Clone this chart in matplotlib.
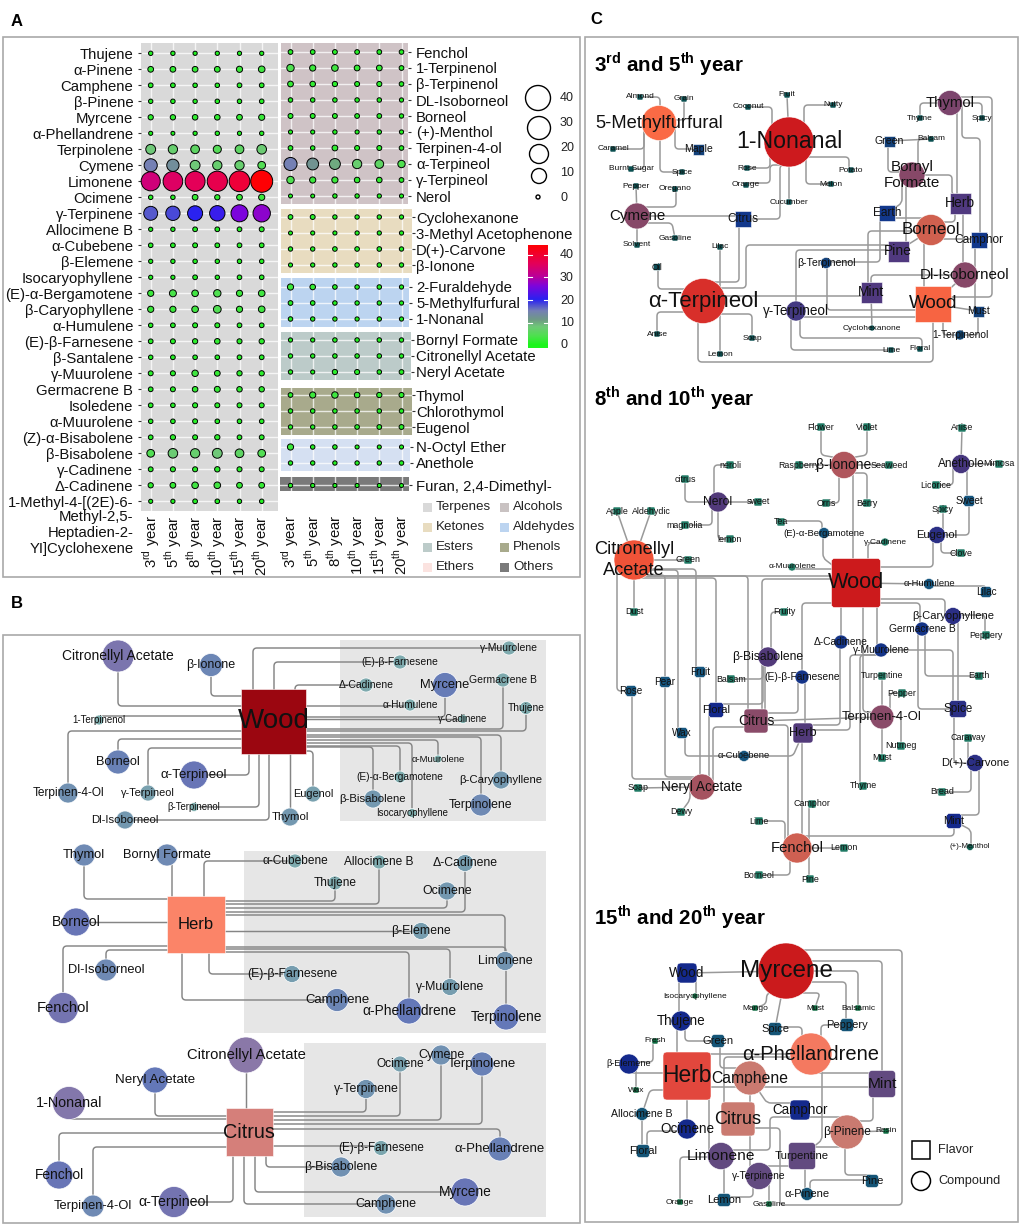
import numpy as np
import matplotlib
matplotlib.use("Agg")
import matplotlib.pyplot as plt
from matplotlib.colors import LinearSegmentedColormap, Normalize
from matplotlib.patches import Rectangle, Circle, FancyBboxPatch, PathPatch
from matplotlib.path import Path

plt.rcParams['font.family'] = ['Liberation Sans', 'DejaVu Sans']
plt.rcParams['mathtext.fontset'] = 'custom'
plt.rcParams['mathtext.rm'] = 'Liberation Sans'
plt.rcParams['mathtext.bf'] = 'Liberation Sans:bold'

W, H = 1021, 1226

# ---------- panel A data ----------
years = ["3$^{\\mathrm{rd}}$ year", "5$^{\\mathrm{th}}$ year", "8$^{\\mathrm{th}}$ year",
         "10$^{\\mathrm{th}}$ year", "15$^{\\mathrm{th}}$ year", "20$^{\\mathrm{th}}$ year"]

terpene_names = ["Thujene", "α-Pinene", "Camphene", "β-Pinene", "Myrcene", "α-Phellandrene", "Terpinolene",
                 "Cymene", "Limonene", "Ocimene", "γ-Terpinene", "Allocimene B", "α-Cubebene", "β-Elemene",
                 "Isocaryophyllene", "(E)-α-Bergamotene", "β-Caryophyllene", "α-Humulene", "(E)-β-Farnesene",
                 "β-Santalene", "γ-Muurolene", "Germacrene B", "Isoledene", "α-Muurolene", "(Z)-α-Bisabolene",
                 "β-Bisabolene", "γ-Cadinene", "Δ-Cadinene", "1-Methyl-4-[(2E)-6-"]
terpene_wrap = ["Methyl-2,5-", "Heptadien-2-", "YI]Cyclohexene"]
terpene_vals = [[.7, .7, .6, .6, .6, .6], [2, 2, 2, 2, 2.5, 3], [1, 1, .8, .8, 1, 1], [.7, .8, .7, .8, .8, .9],
                [1.5, 1.6, 1.8, 1.8, 2, 2.4], [.5, .4, .6, .7, .6, .7], [8, 7, 6, 5, 6, 7.5],
                [15, 13, 8, 7, 7, 4.5], [33, 35, 36, 37, 39, 44], [.8, .8, 2, 1.5, 2, 2.5],
                [17, 18, 20, 21, 26, 27], [.6, .7, 1, 1, 1, 1.2], [.9, 1, 1.1, 1, 1, 1], [.6, .7, .8, .7, .8, .8],
                [.6, .6, 1, .7, .9, .9], [2.5, 3.5, 3, 4, 2.5, 3], [2.5, 2.5, 3, 4.5, 2.5, 3],
                [.8, 1, 1.2, 1.2, 1, 1], [1, 1.2, 1.5, 1.8, 1.3, 1.5], [.8, 1, .9, .9, 1, 1],
                [1.2, 1.3, 2.8, 2, 1.5, 1.5], [1, 1.2, 1.8, 2.2, 1.7, 1.6], [1, .9, 1.3, 1.2, 1.2, 1.2],
                [.8, .9, 1.2, .9, .9, .9], [1, 1.5, 1.2, 1.5, 1, 1.1], [4.5, 7.5, 7, 8, 6, 4.5],
                [1.1, 1.3, 1.3, 1.6, 1.3, 1.2], [1.5, 2, 3, 3, 2, 2], [.5, .6, 1, .9, .7, .8]]

alcohol_names = ["Fenchol", "1-Terpinenol", "β-Terpinenol", "DL-Isoborneol", "Borneol", "(+)-Menthol",
                 "Terpinen-4-ol", "α-Terpineol", "γ-Terpineol", "Nerol"]
alcohol_vals = [[1, 1, 1.1, 1, 1, .9], [4, 2.5, 3, 2, 2, 1], [2, 1.8, 1.5, 1.2, 1.3, .9], [.8, .8, .8, .8, .8, .6],
                [1.2, 1.2, 1.1, 1, 1, .7], [.5, .5, .7, .5, .7, .6], [1, .8, 2, 1.2, 1.2, .9],
                [15, 12, 10, 7, 6, 4], [4, 2.5, 2.5, 1.8, 1.8, 1], [.4, .4, .7, .7, .6, .5]]

ketone_names = ["Cyclohexanone", "3-Methyl Acetophenone", "D(+)-Carvone", "β-Ionone"]
ketone_vals = [[1, 1.2, .7, .7, .7, .6], [.4, .5, .5, .6, .6, .6], [.7, .7, .9, .9, .9, .7], [.5, .6, .7, .8, .8, .7]]

aldehyde_names = ["2-Furaldehyde", "5-Methylfurfural", "1-Nonanal"]
aldehyde_vals = [[2.5, 1.8, .9, .8, .8, .6], [1, .9, .8, .7, .7, .6], [.8, .7, .7, .6, .7, .6]]

ester_names = ["Bornyl Formate", "Citronellyl Acetate", "Neryl Acetate"]
ester_vals = [[.6, .6, .8, .8, .8, .7], [.7, .7, .8, .8, .8, .7], [.7, .5, 1.5, 1.3, .8, 1]]

phenol_names = ["Thymol", "Chlorothymol", "Eugenol"]
phenol_vals = [[1, 2.5, 2.8, 1.8, 1.5, 1.3], [.8, .8, .8, .8, .8, .8], [.7, .7, .8, .9, 1, 1.1]]

ether_names = ["N-Octyl Ether", "Anethole"]
ether_vals = [[2.5, .8, .8, .5, .5, .5], [.7, .7, .7, .7, .7, .8]]

other_names = ["Furan, 2,4-Dimethyl-"]
other_vals = [[.7, .6, .5, .5, .5, .4]]

class_names = ["Terpenes", "Alcohols", "Ketones", "Aldehydes", "Esters", "Phenols", "Ethers", "Others"]
class_cols = ["#d9d9d9", "#c9c2c2", "#e8dcc0", "#bcd4f0", "#bccbc9", "#a8aa8c", "#fbe3e0", "#7a7a7a"]

size_levels = [40, 30, 20, 10, 0]
color_levels = [40, 30, 20, 10, 0]

value_cmap = LinearSegmentedColormap.from_list("conc", [
    (0, "#1bf51b"), (4 / 44.4, "#4fe050"), (8 / 44.4, "#6fc878"), (11 / 44.4, "#6f9a85"), (15 / 44.4, "#7580b4"),
    (20 / 44.4, "#2a22f0"), (26 / 44.4, "#7d05dc"), (30 / 44.4, "#b8009c"), (36 / 44.4, "#e40058"), (1, "#ff0000")])
value_norm = Normalize(0, 44.4)

# ---------- panel B layout: name -> (x, y, diameter), then route to the hub ----------
b_wood = {"Citronellyl Acetate": (118, 656, 32), "β-Ionone": (211, 665, 23), "Δ-Cadinene": (366, 685, 14),
          "(E)-β-Farnesene": (400, 662, 14), "γ-Muurolene": (509, 648, 14), "Myrcene": (445, 685, 25),
          "Germacrene B": (503, 680, 14), "α-Humulene": (410, 705, 12), "γ-Cadinene": (463, 719, 9),
          "Thujene": (526, 708, 13), "1-Terpinenol": (99, 720, 10), "Borneol": (118, 762, 24),
          "Terpinen-4-Ol": (68, 793, 20), "γ-Terpineol": (148, 793, 16), "α-Terpineol": (194, 775, 28),
          "β-Terpinenol": (194, 807, 9), "Dl-Isoborneol": (125, 820, 18), "Thymol": (290, 817, 18),
          "Eugenol": (313, 794, 16), "β-Bisabolene": (373, 799, 18), "(E)-α-Bergamotene": (400, 777, 12),
          "Isocaryophyllene": (412, 813, 9), "α-Muurolene": (438, 759, 8), "β-Caryophyllene": (501, 780, 18),
          "Terpinolene": (481, 805, 22)}
b_wood_routes = {"Citronellyl Acetate": ('y', 706), "β-Ionone": ('y', 696), "γ-Muurolene": ('x', 253),
                 "(E)-β-Farnesene": ('x', 274), "Δ-Cadinene": ('x', 295), "α-Humulene": ('y', 706),
                 "Myrcene": ('y', 717), "γ-Cadinene": ('y', 719), "Germacrene B": ('y', 729), "Thujene": ('y', 731),
                 "1-Terpinenol": ('y', 716), "Terpinen-4-Ol": ('y', 731), "Borneol": ('y', 739),
                 "γ-Terpineol": ('y', 748), "α-Terpineol": ('x', 249), "β-Terpinenol": ('x', 259),
                 "Dl-Isoborneol": ('x', 269), "Thymol": ('x', 290), "Eugenol": ('y', 751), "Terpinolene": ('y', 737),
                 "β-Caryophyllene": ('y', 735), "β-Bisabolene": ('y', 747), "(E)-α-Bergamotene": ('y', 746),
                 "Isocaryophyllene": ('y', 743), "α-Muurolene": ('y', 740)}

b_herb = {"Thymol": (84, 855, 22), "Bornyl Formate": (167, 855, 22), "α-Cubebene": (295, 861, 14),
          "Allocimene B": (379, 862, 14), "Thujene": (335, 883, 14), "Δ-Cadinene": (465, 863, 17),
          "Ocimene": (447, 891, 18), "Borneol": (76, 922, 28), "β-Elemene": (421, 931, 17),
          "Limonene": (505, 961, 19), "Dl-Isoborneol": (106, 970, 22), "Fenchol": (63, 1008, 31),
          "(E)-β-Farnesene": (292, 974, 17), "γ-Muurolene": (450, 987, 17), "Camphene": (337, 1000, 23),
          "α-Phellandrene": (409, 1011, 26), "Terpinolene": (506, 1017, 26)}
b_herb_routes = {"Thymol": ('y', 899), "Bornyl Formate": ('x', 172), "α-Cubebene": ('x', 204),
                 "Allocimene B": ('y', 904), "Thujene": ('y', 901), "Ocimene": ('y', 908), "Δ-Cadinene": ('y', 912),
                 "Limonene": ('y', 915), "β-Elemene": ('y', 931), "Borneol": ('y', 922), "Dl-Isoborneol": ('y', 950),
                 "Fenchol": ('y', 946), "(E)-β-Farnesene": ('x', 209), "Camphene": ('x', 182),
                 "α-Phellandrene": ('y', 952), "γ-Muurolene": ('y', 949), "Terpinolene": ('y', 947)}

b_citrus = {"Citronellyl Acetate": (246, 1055, 36), "Neryl Acetate": (155, 1080, 26), "1-Nonanal": (69, 1103, 33),
            "γ-Terpinene": (366, 1089, 19), "Ocimene": (400, 1064, 16), "Cymene": (441, 1055, 20),
            "Terpinolene": (482, 1064, 24), "α-Phellandrene": (500, 1149, 24), "(E)-β-Farnesene": (381, 1148, 15),
            "β-Bisabolene": (341, 1167, 20), "Myrcene": (465, 1192, 28), "Camphene": (386, 1204, 20),
            "Fenchol": (59, 1175, 28), "Terpinen-4-Ol": (93, 1206, 22), "α-Terpineol": (174, 1202, 31)}
b_citrus_routes = {"Citronellyl Acetate": ('x', 246), "Neryl Acetate": ('y', 1116), "1-Nonanal": ('y', 1119),
                   "γ-Terpinene": ('y', 1112), "Ocimene": ('y', 1116), "Cymene": ('y', 1120), "Terpinolene": ('y', 1124),
                   "α-Phellandrene": ('y', 1129), "(E)-β-Farnesene": ('y', 1146), "β-Bisabolene": ('x', 266),
                   "Myrcene": ('x', 255), "Camphene": ('x', 244), "α-Terpineol": ('x', 233), "Fenchol": ('y', 1133),
                   "Terpinen-4-Ol": ('y', 1147)}

# ---------- panel C layout ----------
c1_squares = {"Almond": (640, 97, 6), "Grain": (684, 99, 6), "Maple": (698, 149, 11), "Caramel": (613, 149, 6),
              "Burnt Sugar": (631, 169, 6), "Spice": (682, 172, 6), "Pepper": (636, 186, 6), "Oregano": (675, 189, 6),
              "Solvent": (637, 245, 6), "Gasoline": (675, 238, 6), "Citrus": (743, 219, 16), "Fruit": (787, 95, 6),
              "Coconut": (748, 107, 6), "Nutty": (833, 105, 6), "Rose": (747, 168, 6), "Orange": (746, 185, 6),
              "Melon": (831, 184, 6), "Potato": (851, 170, 6), "Cucumber": (789, 202, 6), "Green": (889, 141, 11),
              "Balsam": (931, 139, 6), "Thyme": (920, 118, 6), "Spicy": (982, 118, 6), "Herb": (960, 203, 21),
              "Earth": (887, 213, 16), "Camphor": (979, 240, 16), "Pine": (898, 251, 21), "Lilac": (720, 247, 6),
              "Oil": (657, 267, 7), "Mint": (871, 292, 21), "Wood": (933, 304, 36), "Must": (978, 311, 11),
              "Anise": (657, 334, 6), "Soap": (752, 338, 6), "Lemon": (720, 354, 6), "Lime": (891, 350, 6),
              "Floral": (920, 349, 6)}
c1_circles = {"5-Methylfurfural": (659, 123, 35), "Cymene": (637, 216, 26), "1-Nonanal": (789, 142, 50),
              "Thymol": (950, 103, 25), "Bornyl Formate": (912, 175, 26), "Borneol": (931, 230, 31),
              "β-Terpinenol": (826, 263, 11), "Dl-Isoborneol": (965, 275, 26), "α-Terpineol": (703, 301, 45),
              "γ-Terpineol": (796, 311, 20), "1-Terpinenol": (960, 335, 10), "Cyclohexanone": (872, 328, 6)}
c1_edges = [("5-Methylfurfural", "Almond", (660, 97)), ("5-Methylfurfural", "Grain", (684, 120)),
            ("5-Methylfurfural", "Maple", (675, 123), (675, 149)), ("5-Methylfurfural", "Caramel", (644, 123), (644, 149)),
            ("5-Methylfurfural", "Burnt Sugar", (644, 123), (644, 169)), ("5-Methylfurfural", "Spice", (660, 172)),
            ("Cymene", "Pepper"), ("Cymene", "Oregano", (637, 207), (676, 207)), ("Cymene", "Gasoline", (637, 223), (672, 223)),
            ("Cymene", "Solvent"), ("Cymene", "Citrus", (743, 216)),
            ("Citrus", "1-Nonanal", (780, 219), (780, 165)), ("Citrus", "α-Terpineol", (739, 219), (739, 282), (703, 282)),
            ("α-Terpineol", "Pine", (746, 288), (746, 245)), ("α-Terpineol", "Mint", (703, 296), (871, 296)),
            ("α-Terpineol", "Wood", (698, 362), (933, 362)), ("α-Terpineol", "Lilac", (720, 301)),
            ("α-Terpineol", "Lemon", (720, 301)), ("α-Terpineol", "Oil", (703, 289), (658, 289)),
            ("α-Terpineol", "Anise", (703, 312), (657, 312)), ("α-Terpineol", "Soap", (703, 314), (752, 314)),
            ("1-Nonanal", "Fruit"), ("1-Nonanal", "Coconut", (772, 107)), ("1-Nonanal", "Nutty", (804, 105)),
            ("1-Nonanal", "Rose", (770, 168)), ("1-Nonanal", "Orange", (770, 165), (770, 183)),
            ("1-Nonanal", "Melon", (806, 142), (806, 184)), ("1-Nonanal", "Potato", (789, 157), (849, 157)),
            ("1-Nonanal", "Cucumber"), ("Green", "Balsam"), ("Green", "Bornyl Formate", (888, 172)),
            ("Balsam", "Bornyl Formate", (918, 139), (918, 170)), ("Thymol", "Thyme", (920, 103)), ("Thymol", "Spicy", (982, 103)),
            ("Thymol", "Herb", (957, 103), (957, 203)), ("Thymol", "Camphor", (962, 103), (962, 138), (980, 138), (980, 240)),
            ("Thymol", "Wood", (992, 97), (992, 297)), ("Bornyl Formate", "Herb", (952, 175), (952, 195)),
            ("Bornyl Formate", "Earth", (902, 203)), ("Bornyl Formate", "Pine", (906, 175), (906, 251)),
            ("Earth", "Borneol", (887, 218), (931, 218)), ("Earth", "β-Terpinenol", (880, 213), (880, 262)),
            ("Borneol", "Herb", (955, 222)), ("Borneol", "Camphor", (931, 239), (979, 239)),
            ("Borneol", "Mint", (868, 231), (868, 292)), ("Borneol", "Pine"), ("Borneol", "Wood", (924, 230), (924, 304)),
            ("Pine", "γ-Terpineol", (796, 250)), ("β-Terpinenol", "Wood", (827, 310)),
            ("Mint", "Dl-Isoborneol", (871, 275)), ("Mint", "Cyclohexanone"), ("Dl-Isoborneol", "Wood"),
            ("Dl-Isoborneol", "Must", (975, 275), (975, 311)), ("Camphor", "Dl-Isoborneol", (975, 240), (975, 275)),
            ("Herb", "Dl-Isoborneol", (963, 203), (963, 275)), ("Wood", "γ-Terpineol", (933, 317), (796, 317)),
            ("γ-Terpineol", "Floral", (800, 338), (922, 338)), ("γ-Terpineol", "Lime", (791, 311), (791, 350)),
            ("Wood", "1-Terpinenol", (943, 335)), ("Must", "1-Terpinenol", (978, 335)), ("Wood", "Must")]

c2_squares = {"Apple": (617, 511, 8), "Aldehydic": (651, 511, 8), "Green": (688, 560, 8), "Dust": (634, 612, 8),
              "citrus": (685, 479, 8), "neroli": (730, 465, 8), "sweet": (758, 502, 8), "magnolia": (685, 525, 8),
              "lemon": (730, 539, 8), "Flower": (821, 427, 8), "Violet": (867, 427, 8), "Raspberry": (799, 465, 8),
              "Seaweed": (889, 465, 8), "Orris": (826, 503, 8), "Berry": (867, 503, 8), "Anise": (962, 428, 8),
              "Mimosa": (999, 464, 8), "Licorice": (936, 485, 8), "Sweet": (969, 501, 11), "Spicy": (943, 509, 8),
              "Clove": (961, 553, 8), "Tea": (781, 522, 8), "Wood": (856, 583, 49), "Lilac": (986, 592, 11),
              "Peppery": (986, 635, 8), "Fruity": (784, 612, 8), "Balsam": (731, 679, 8), "Earth": (979, 676, 8),
              "Turpentine": (882, 676, 8), "Pepper": (902, 693, 8), "Fruit": (700, 672, 11), "Pear": (665, 682, 11),
              "Rose": (631, 691, 11), "Floral": (716, 710, 15), "Citrus": (756, 721, 24), "Herb": (803, 733, 20),
              "Spice": (958, 709, 17), "Wax": (682, 733, 11), "Nutmeg": (901, 746, 8), "Must": (882, 758, 8),
              "Caraway": (968, 738, 8), "Thyme": (863, 786, 8), "Soap": (638, 788, 8), "Dewy": (681, 812, 8),
              "Bread": (942, 792, 8), "Camphor": (812, 804, 8), "Mint": (954, 821, 15), "Lime": (759, 821, 8),
              "Lemon": (844, 848, 8), "Borneol": (759, 875, 8), "Pine": (810, 879, 8)}
c2_circles = {"Citronellyl Acetate": (634, 560, 40), "Nerol": (718, 502, 20), "β-Ionone": (844, 465, 27),
              "Anethole": (961, 464, 19), "Eugenol": (937, 535, 17), "(E)-α-Bergamotene": (824, 533, 11),
              "γ-Cadinene": (885, 542, 8), "α-Muurolene": (792, 567, 8), "α-Humulene": (929, 584, 11),
              "β-Caryophyllene": (953, 616, 17), "Germacrene B": (922, 629, 14), "Δ-Cadinene": (841, 642, 14),
              "γ-Muurolene": (881, 650, 14), "β-Bisabolene": (768, 657, 20), "(E)-β-Farnesene": (802, 677, 14),
              "Terpinen-4-Ol": (882, 717, 24), "α-Cubebene": (744, 756, 11), "D(+)-Carvone": (975, 763, 17),
              "Neryl Acetate": (702, 787, 26), "(+)-Menthol": (970, 847, 7), "Fenchol": (797, 848, 30)}
c2_edges = [("Citronellyl Acetate", "Apple"), ("Citronellyl Acetate", "Aldehydic"), ("Citronellyl Acetate", "Green"),
            ("Citronellyl Acetate", "Dust"), ("Citronellyl Acetate", "Rose", (617, 570), (617, 691)),
            ("Citronellyl Acetate", "Pear", (665, 575), (665, 682)), ("Citronellyl Acetate", "Wax", (678, 570), (678, 733)),
            ("Citronellyl Acetate", "Fruit", (696, 569), (696, 672)), ("Citronellyl Acetate", "Floral", (716, 578)),
            ("Citronellyl Acetate", "Citrus", (748, 576), (748, 721)), ("Citronellyl Acetate", "Wood", (634, 576), (856, 576)),
            ("Wood", "Citrus", (762, 579)), ("Fruity", "β-Bisabolene", (771, 612)), ("Wood", "(E)-β-Farnesene", (802, 603)),
            ("Wood", "Δ-Cadinene", (841, 583)), ("Wood", "Terpinen-4-Ol", (863, 583), (863, 712)), ("Wood", "γ-Muurolene", (877, 583), (877, 650)),
            ("Wood", "Eugenol", (933, 567)), ("Wood", "α-Humulene"), ("α-Humulene", "Lilac", (986, 586)), ("Wood", "β-Caryophyllene", (945, 599)),
            ("Wood", "Germacrene B", (920, 603)), ("Wood", "β-Ionone", (853, 583), (853, 465)), ("Wood", "(E)-α-Bergamotene", (823, 558)),
            ("Wood", "γ-Cadinene", (868, 543)), ("α-Muurolene", "Wood", (840, 569)), ("Tea", "(E)-α-Bergamotene", (822, 521)),
            ("β-Ionone", "Flower", (838, 458), (821, 455)), ("β-Ionone", "Violet", (850, 458), (867, 455)), ("β-Ionone", "Raspberry"),
            ("β-Ionone", "Seaweed"), ("β-Ionone", "Orris", (839, 465), (839, 503)), ("β-Ionone", "Berry", (850, 473), (867, 473)),
            ("Nerol", "citrus", (685, 502)), ("Nerol", "neroli", (714, 465)), ("Nerol", "sweet"), ("Nerol", "magnolia", (712, 525)),
            ("Nerol", "lemon", (718, 539)), ("Anethole", "Anise"), ("Anethole", "Mimosa"), ("Anethole", "Licorice", (953, 485)),
            ("Anethole", "Sweet", (967, 464), (967, 501)), ("Sweet", "Eugenol", (969, 535)), ("Eugenol", "Spicy", (943, 535)),
            ("Eugenol", "Clove", (941, 553)), ("γ-Muurolene", "Herb", (850, 655), (850, 730)), ("γ-Muurolene", "Spice", (953, 650)),
            ("Germacrene B", "Earth", (925, 676)), ("Germacrene B", "Spice", (918, 629), (918, 709)), ("β-Caryophyllene", "Spice", (958, 616)),
            ("β-Caryophyllene", "Peppery", (985, 615)), ("Spice", "D(+)-Carvone", (954, 709), (954, 763)), ("Terpinen-4-Ol", "Turpentine"),
            ("Terpinen-4-Ol", "Pepper", (890, 693)), ("Terpinen-4-Ol", "Nutmeg", (901, 717)), ("Terpinen-4-Ol", "Must"),
            ("Thyme", "γ-Muurolene", (860, 655)), ("Terpinen-4-Ol", "Citrus"), ("β-Bisabolene", "Balsam", (763, 679)),
            ("β-Bisabolene", "Floral", (763, 704)), ("β-Bisabolene", "Citrus", (765, 657), (765, 721)), ("(E)-β-Farnesene", "Citrus", (798, 713)),
            ("(E)-β-Farnesene", "Herb", (805, 677), (805, 733)), ("Δ-Cadinene", "Herb", (840, 725)), ("Citrus", "Fenchol", (788, 725), (788, 840)),
            ("Citrus", "Neryl Acetate", (713, 727)), ("Herb", "Fenchol", (802, 733), (802, 848)), ("Herb", "α-Cubebene", (793, 756)),
            ("α-Cubebene", "Wax", (685, 756)), ("Neryl Acetate", "Rose", (632, 779)), ("Neryl Acetate", "Pear", (665, 777)),
            ("Neryl Acetate", "Fruit", (700, 787)), ("Neryl Acetate", "Floral", (709, 787), (709, 710)), ("Neryl Acetate", "Soap"),
            ("Neryl Acetate", "Dewy", (690, 800)), ("Fenchol", "Lime", (785, 821)), ("Fenchol", "Camphor", (809, 848), (809, 804)),
            ("Fenchol", "Lemon"), ("Fenchol", "Borneol", (790, 875)), ("Fenchol", "Pine", (809, 848), (809, 879)), ("Fenchol", "Mint", (797, 836), (954, 836)),
            ("Mint", "D(+)-Carvone", (979, 815), (979, 763)), ("Mint", "(+)-Menthol", (971, 830)), ("D(+)-Carvone", "Caraway", (968, 763)),
            ("D(+)-Carvone", "Bread", (971, 792))]

c3_squares = {"Wood": (687, 973, 20), "Mango": (755, 1008, 6), "Must": (815, 1008, 6), "Balsamic": (858, 1008, 6),
              "Peppery": (847, 1025, 13), "Spice": (775, 1029, 13), "Fresh": (655, 1041, 6), "Green": (718, 1041, 13),
              "Herb": (687, 1076, 48), "Mint": (882, 1084, 27), "Wax": (636, 1090, 6), "Camphor": (800, 1110, 20),
              "Citrus": (738, 1119, 34), "Resin": (886, 1131, 6), "Floral": (643, 1151, 13), "Turpentine": (802, 1156, 27),
              "Pine": (872, 1181, 13), "Orange": (680, 1202, 6), "Lemon": (724, 1200, 13), "Gasoline": (769, 1204, 6)}
c3_circles = {"Myrcene": (786, 971, 56), "Isocaryophyllene": (695, 996, 6), "Thujene": (681, 1021, 20),
              "β-Elemene": (629, 1064, 20), "α-Phellandrene": (811, 1054, 42), "Camphene": (750, 1078, 34),
              "Allocimene B": (642, 1114, 13), "β-Pinene": (847, 1132, 34), "Ocimene": (687, 1129, 20),
              "Limonene": (721, 1156, 27), "γ-Terpinene": (759, 1176, 27), "α-Pinene": (807, 1194, 13)}
c3_edges = [("Myrcene", "Wood"), ("Citrus", "Myrcene", (780, 1128), (780, 1205), (902, 1205), (902, 950), (800, 950)),
            ("Myrcene", "Mint", (882, 961)), ("Myrcene", "Balsamic", (858, 971)), ("Myrcene", "Peppery", (846, 982)),
            ("Myrcene", "Must", (820, 993)), ("Myrcene", "Mango", (767, 993), (766, 1004)), ("Myrcene", "Spice"),
            ("Wood", "Thujene", (679, 973)), ("Wood", "Isocaryophyllene", (696, 973)), ("Thujene", "Herb", (677, 1021)),
            ("Thujene", "Green", (685, 1041)), ("Green", "Camphene", (720, 1068)), ("Fresh", "β-Elemene", (653, 1062)),
            ("β-Elemene", "Herb", (629, 1073), (687, 1073)), ("β-Elemene", "Wax", (636, 1064)), ("Herb", "Allocimene B", (650, 1090)),
            ("Herb", "Ocimene"), ("Herb", "Limonene", (709, 1076), (709, 1156)), ("Herb", "Mint", (687, 1087), (882, 1087)),
            ("Herb", "α-Phellandrene", (687, 1054)), ("Citrus", "α-Phellandrene", (724, 1119), (724, 1057)), ("Allocimene B", "Floral", (642, 1151)),
            ("Floral", "Ocimene", (647, 1131)), ("Camphene", "Citrus", (750, 1078), (750, 1119)), ("Camphene", "Camphor", (767, 1103)),
            ("Spice", "α-Phellandrene", (802, 1027)), ("Peppery", "α-Phellandrene", (821, 1025)), ("α-Phellandrene", "Mint", (811, 1073), (882, 1073)),
            ("α-Phellandrene", "Turpentine", (822, 1054), (822, 1140)), ("β-Pinene", "Limonene", (770, 1117), (770, 1150)),
            ("Mint", "β-Pinene", (873, 1121)), ("β-Pinene", "Resin"), ("β-Pinene", "Turpentine", (847, 1147), (802, 1147)), ("β-Pinene", "Pine", (845, 1175)),
            ("Turpentine", "γ-Terpinene", (802, 1166), (759, 1166)), ("Turpentine", "α-Pinene", (805, 1156)), ("Pine", "α-Pinene", (810, 1180)),
            ("Citrus", "γ-Terpinene", (750, 1119), (750, 1170)), ("Limonene", "Orange", (680, 1157)), ("Limonene", "Lemon", (724, 1156)),
            ("γ-Terpinene", "Lemon", (753, 1197)), ("γ-Terpinene", "Gasoline", (769, 1176))]

wrapped = {"Bornyl Formate": "Bornyl\nFormate", "Citronellyl Acetate": "Citronellyl\nAcetate"}
c3_fonts = {"β-Pinene": 8.6, "Turpentine": 8.2, "γ-Terpinene": 7.4, "β-Elemene": 6.6, "α-Phellandrene": 14.5,
            "Camphene": 11.3, "Allocimene B": 7.6}

c1_stops = [(6, "#0a4f50"), (11, "#13417a"), (16, "#12388c"), (21, "#50397f"), (26, "#874868"), (31, "#d0604f"),
            (35, "#fa6a45"), (45, "#d82f2a"), (50, "#cd1a1e")]
c2_stops = [(7, "#0f6050"), (8, "#1f7a64"), (11, "#15547e"), (15, "#14288c"), (20, "#523a7a"), (26, "#a65360"),
            (30, "#cf6052"), (40, "#f05438"), (49, "#cc1a1c")]
c3_stops = [(6, "#0d6a40"), (13, "#155578"), (20, "#14288c"), (27, "#624a80"), (34, "#ca7a70"), (42, "#f47a60"),
            (48, "#e2483e"), (56, "#cb1a1c")]
b_stops = [(8, "#7fb0ae"), (14, "#7eaaae"), (18, "#7398b0"), (22, "#6f8ab4"), (26, "#6478b8"), (30, "#6c72b4"),
           (34, "#8a78a8")]


def stops_cmap(stops):
    lo, hi = stops[0][0], stops[-1][0]
    cm = LinearSegmentedColormap.from_list("s", [((d - lo) / (hi - lo), c) for d, c in stops])
    return lambda d: cm((d - lo) / (hi - lo))


fig = plt.figure(figsize=(W / 100, H / 100), dpi=100)
ov = fig.add_axes([0, 0, 1, 1])
ov.set_xlim(0, W)
ov.set_ylim(H, 0)
ov.axis('off')


def px_axes(x0, y0, x1, y1):
    return fig.add_axes([x0 / W, 1 - y1 / H, (x1 - x0) / W, (y1 - y0) / H])


PANEL_X = {'left': 150.7, 'right': 290.5}
LABEL_FS = 10.7


def bubble_panel(box, first_row, names, vals, color, side='right', show_years=False, year_pad=3):
    x0, y0, x1, y1 = box
    ax = px_axes(x0, y0, x1, y1)
    ax.set_facecolor(color)
    # data x is the column index, data y the row index
    ax.set_xlim((x0 - PANEL_X[side]) / 22.2, (x1 - PANEL_X[side]) / 22.2)
    ax.set_ylim((y1 - first_row) / 16.0, (y0 - first_row) / 16.0)
    v = np.array(vals)
    xx, yy = np.meshgrid(np.arange(v.shape[1]), np.arange(v.shape[0]))
    r2 = 2.9 + 2.68 * v
    ax.set_axisbelow(True)
    ax.grid(color='white', lw=1.0, alpha=0.75)
    ax.scatter(xx.ravel(), yy.ravel(), s=(r2.ravel() * 4) * 0.72 ** 2, c=v.ravel(), cmap=value_cmap, norm=value_norm,
               edgecolors='black', linewidths=0.7, zorder=3, clip_on=False)
    for s in ax.spines.values():
        s.set_visible(False)
    ax.set_yticks(np.arange(len(names)))
    ax.set_yticklabels(names, fontsize=LABEL_FS, color='#111111')
    ax.set_xticks(np.arange(6))
    if side == 'right':
        ax.yaxis.tick_right()
        pad = max(0.5, (416 - x1) * 0.72 - 2)
    else:
        pad = 3.5
    ax.tick_params(axis='y', length=2, width=0.8, pad=pad, color='#333333')
    if show_years:
        ax.set_xticklabels(years, rotation=90, fontsize=LABEL_FS, color='#111111')
        ax.tick_params(axis='x', length=0, pad=year_pad)
    else:
        ax.tick_params(axis='x', length=0, labelbottom=False)
    return ax


term = bubble_panel((141, 43, 278, 511), 53.3, terpene_names, terpene_vals, class_cols[0], 'left', True, 3)
for i, line in enumerate(terpene_wrap):
    term.text(-0.78, 29 + i, line, ha='right', va='center', fontsize=LABEL_FS, color='#111111', clip_on=False)
bubble_panel((281, 43, 408, 204), 52, alcohol_names, alcohol_vals, "#cfc3c6")
bubble_panel((281, 209, 412, 273), 217, ketone_names, ketone_vals, class_cols[2])
bubble_panel((281, 278, 409, 327), 287, aldehyde_names, aldehyde_vals, class_cols[3])
bubble_panel((281, 332, 411, 380), 340, ester_names, ester_vals, class_cols[4])
bubble_panel((281, 388, 412, 435), 395, phenol_names, phenol_vals, class_cols[5])
bubble_panel((281, 439, 410, 471), 447, ether_names, ether_vals, "#d5e0f2")
bubble_panel((280, 477, 409, 491), 485.5, other_names, other_vals, class_cols[7], 'right', True, 17)

# size legend
size_pos = [(538, 98, 25), (539, 128, 23), (539, 154, 19), (539, 176, 15), (538, 197, 4)]
label_y = [98, 123, 148, 173, 198]
for (x, y, d), ly, lv in zip(size_pos, label_y, size_levels):
    ov.add_patch(Circle((x, y), d / 2, fc='white', ec='black', lw=1.0))
    ov.text(560, ly, str(lv), fontsize=9, va='center', color='#222222')

# colour bar
cb = px_axes(528, 245, 548, 348)
grad = np.linspace(44.4, -1.3, 200).reshape(-1, 1)
cb.imshow(grad, aspect='auto', cmap=value_cmap, norm=value_norm, extent=[0, 1, -1.3, 44.4])
cb.axis('off')
for lv, ly in zip(color_levels, [255, 278, 301, 323, 345]):
    ov.text(560, ly, str(lv), fontsize=9, va='center', color='#222222')
    if lv > 0:
        cb.plot([0, .22], [lv, lv], color='white', lw=0.8)
        cb.plot([.78, 1], [lv, lv], color='white', lw=0.8)

# class legend
sw_x = [427, 504]
sw_y = [507, 527, 547, 567]
for i, (nm, col) in enumerate(zip(class_names, class_cols)):
    x, y = sw_x[i % 2], sw_y[i // 2]
    ov.add_patch(Rectangle((x - 4.5, y - 4.5), 9, 9, fc=col, ec='none'))
    ov.text(x + 9, y, nm, fontsize=9.6, va='center', color='#222222')

# panel frames and letters
for (x0, y0, x1, y1) in [(3, 37, 580, 577), (3, 635, 580, 1223), (585, 37, 1018, 1222)]:
    ov.add_patch(Rectangle((x0, y0), x1 - x0, y1 - y0, fc='white', ec='#a9a9a9', lw=1.2, zorder=0))
for t, x, y in [("A", 11, 22), ("B", 11, 603), ("C", 590, 20)]:
    ov.text(x, y, t, fontsize=12, fontweight='bold', ha='left', va='center')


def draw_edge(pts, color='#8f8f8f', lw=1.05, z=1, r=4.0):
    pts = [np.array(p, float) for p in pts]
    clean = [pts[0]]
    for p in pts[1:]:
        if np.hypot(*(p - clean[-1])) > 0.5:
            clean.append(p)
    if len(clean) < 2:
        return
    verts, codes = [clean[0]], [Path.MOVETO]
    for i in range(1, len(clean) - 1):
        a, p, b = clean[i - 1], clean[i], clean[i + 1]
        la, lb = np.hypot(*(p - a)), np.hypot(*(b - p))
        rr = min(r, la / 2, lb / 2)
        verts += [p - (p - a) / la * rr, p, p + (b - p) / lb * rr]
        codes += [Path.LINETO, Path.CURVE3, Path.CURVE3]
    verts.append(clean[-1])
    codes.append(Path.LINETO)
    ov.add_patch(PathPatch(Path(verts, codes), fc='none', ec=color, lw=lw, zorder=z))


def square_out(node, w):
    # run straight out of a node when the waypoint lies within its width
    x, y, d = node
    dx, dy = w[0] - x, w[1] - y
    if dx == 0 or dy == 0:
        return []
    if abs(dy) < d / 2:
        return [(x, w[1])]
    if abs(dx) < d / 2:
        return [(w[0], y)]
    return []


def draw_square(x, y, w, h, col, rounded=0, z=3):
    if rounded:
        ov.add_patch(FancyBboxPatch((x - w / 2 + rounded, y - h / 2 + rounded), w - 2 * rounded, h - 2 * rounded,
                                    boxstyle="round,pad=%g,rounding_size=%g" % (rounded, rounded),
                                    fc=col, ec='white', lw=0.4, zorder=z))
    else:
        ov.add_patch(Rectangle((x - w / 2, y - h / 2), w, h, fc=col, ec='white', lw=0.4, zorder=z))


def hub_network(nodes, routes, hub_box, hub_col, hub_name, hub_fs, fs_x, fs_y):
    hx0, hy0, hx1, hy1 = hub_box
    hx, hy = (hx0 + hx1) / 2, (hy0 + hy1) / 2
    colour = stops_cmap(b_stops)
    for nm, (kind, lev) in routes.items():
        x, y, _ = nodes[nm]
        if kind == 'y':
            draw_edge([(x, y), (x, lev), (hx, lev)], color='#858585', lw=1.05)
        else:
            draw_edge([(x, y), (lev, y), (lev, hy)], color='#858585', lw=1.05)
    for nm, (x, y, d) in nodes.items():
        ov.add_patch(Circle((x, y), d / 2, fc=colour(d), ec='white', lw=0.5, zorder=2))
        ov.text(x, y, nm, ha='center', va='center', fontsize=np.interp(d, fs_x, fs_y), zorder=5, color='#111111')
    draw_square(hx, hy, hx1 - hx0, hy1 - hy0, hub_col)
    ov.text(hx, hy, hub_name, ha='center', va='center', fontsize=hub_fs, zorder=5, color='#111111')


for rect in [(340, 640, 546, 821), (244, 851, 546, 1033), (303.5, 1043, 546, 1217)]:
    ov.add_patch(Rectangle((rect[0], rect[1]), rect[2] - rect[0], rect[3] - rect[1], fc='#e6e6e6', ec='none', zorder=0.5))

hub_network(b_wood, b_wood_routes, (241, 689, 306, 754), "#9b0610", "Wood", 20,
            [8, 14, 18, 24, 32], [6.8, 7.5, 8.2, 9.2, 10.0])
hub_network(b_herb, b_herb_routes, (167, 896, 224.5, 953), "#fb8468", "Herb", 12,
            [14, 22, 31], [8.6, 9.3, 10.6])
hub_network(b_citrus, b_citrus_routes, (225.6, 1108, 273, 1156), "#d57f7a", "Citrus", 14.3,
            [15, 24, 36], [8.4, 9.5, 10.6])


def network(squares, circles, edges, stops, rounded, sq_scale=1.0, ci_scale=1.0, fonts={}):
    colour = stops_cmap(stops)
    nodes = dict(squares)
    nodes.update(circles)
    for e in edges:
        a, b = nodes[e[0]], nodes[e[1]]
        way = list(e[2:])
        if way:
            way = square_out(a, way[0]) + way + square_out(b, way[-1])
        col = '#dddddd' if (e[0], e[1]) == ("1-Nonanal", "Green") else '#999999'
        draw_edge([a[:2]] + way + [b[:2]], color=col, lw=1.1)
    ds = [6, 10, 16, 21, 26, 35, 45, 56]
    fs = [6.0, 7.4, 8.6, 10, 10.9, 13.2, 16, 17.5]
    for nm, (x, y, d) in squares.items():
        rr = rounded if d >= 11 else 1
        draw_square(x, y, d, d, colour(d), rounded=min(rr, d / 4))
        ov.text(x, y, nm, ha='center', va='center', zorder=5,
                fontsize=fonts.get(nm, np.interp(d, ds, fs) * sq_scale), color='#111111')
    for nm, (x, y, d) in circles.items():
        ov.add_patch(Circle((x, y), d / 2, fc=colour(d), ec='white', lw=0.4, zorder=3))
        ov.text(x, y, wrapped.get(nm, nm), ha='center', va='center', zorder=5,
                fontsize=fonts.get(nm, np.interp(d, ds, fs) * ci_scale), color='#111111', linespacing=1.25)


network(c1_squares, c1_circles, c1_edges, c1_stops, 0)
network(c2_squares, c2_circles, c2_edges, c2_stops, 3, 0.95, 0.9)
network(c3_squares, c3_circles, c3_edges, c3_stops, 4, 1.0, 1.0, c3_fonts)

for txt, y in [(r"3$^{\mathbf{rd}}$ and 5$^{\mathbf{th}}$ year", 64),
               (r"8$^{\mathbf{th}}$ and 10$^{\mathbf{th}}$ year", 398),
               (r"15$^{\mathbf{th}}$ and 20$^{\mathbf{th}}$ year", 917)]:
    ov.text(594, y, txt, fontsize=14.8, fontweight='bold', va='center', ha='left')

# flavor / compound legend
ov.add_patch(Rectangle((912, 1141), 18, 18, fc='white', ec='black', lw=1.1))
ov.add_patch(Circle((921, 1181), 9.5, fc='white', ec='black', lw=1.1))
ov.text(938, 1150, "Flavor", fontsize=9.2, va='center', color='#222222')
ov.text(938, 1181, "Compound", fontsize=9.2, va='center', color='#222222')

fig.savefig("out.png", dpi=100)
